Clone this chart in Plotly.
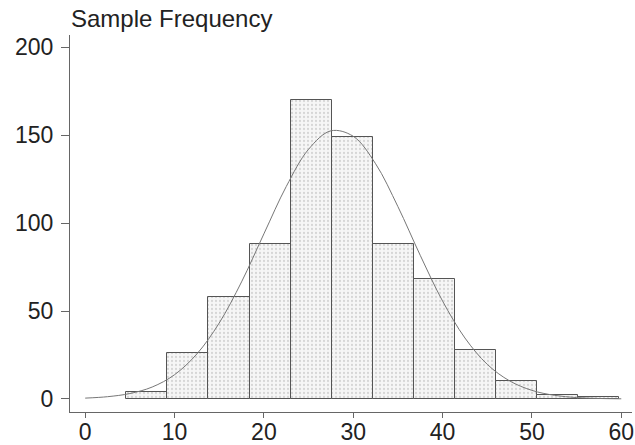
import plotly.graph_objects as go

# histogram bins (left edge) and counts
bin_width = 4.6
bin_starts = [4.6, 9.2, 13.8, 18.4, 23.0, 27.6, 32.2, 36.8, 41.4, 46.0, 50.6, 55.2]
counts = [4, 26, 58, 88, 170, 149, 88, 68, 28, 10, 2, 1]

# fitted normal curve
curve_x = [0, 2.5, 5, 7.5, 10, 12.5, 15, 17.5, 20, 22.5, 25, 27.5, 30,
           32.5, 35, 37.5, 40, 42.5, 45, 47.5, 50, 52.5, 55, 57.5, 60]
curve_y = [0.5, 1.3, 3.1, 6.8, 13.8, 25.6, 43.2, 66.6, 93.9, 120.8, 142, 152.5, 149.4,
           133.8, 109.4, 81.7, 55.7, 34.7, 19.7, 10.3, 4.9, 2.1, 0.8, 0.3, 0.1]

x_ticks = [0, 10, 20, 30, 40, 50, 60]
y_ticks = [0, 50, 100, 150, 200]

bin_centers = [s + bin_width / 2 for s in bin_starts]

fig = go.Figure()
fig.add_trace(go.Bar(
    x=bin_centers,
    y=counts,
    width=bin_width,
    marker=dict(
        color="#f4f4f4",
        line=dict(color="#555555", width=1),
        pattern=dict(shape=".", fgcolor="#b5b5b5", bgcolor="#f6f6f6", size=4, solidity=0.25),
    ),
    showlegend=False,
))
fig.add_trace(go.Scatter(
    x=curve_x,
    y=curve_y,
    mode="lines",
    line=dict(color="#777777", width=1, shape="spline"),
    showlegend=False,
))

axis_style = dict(
    showline=True, linecolor="#666666", linewidth=1,
    ticks="outside", tickcolor="#666666",
    showgrid=False, zeroline=False, automargin=False,
    tickfont=dict(family="Liberation Sans, Arial", size=23, color="#222222"),
)

fig.update_layout(
    width=635, height=445,
    margin=dict(l=70, r=3, t=35, b=33),
    plot_bgcolor="white", paper_bgcolor="white",
    bargap=0,
    xaxis=dict(range=[-1.7, 61.2], tickvals=x_ticks, ticklen=5,
               ticklabelstandoff=-6, **axis_style),
    yaxis=dict(range=[-7.4, 207], tickvals=y_ticks, ticklen=8,
               ticklabelstandoff=3, **axis_style),
    annotations=[dict(
        text="Sample Frequency", xref="paper", yref="paper", x=0, y=1,
        xanchor="left", yanchor="bottom", showarrow=False, xshift=-1, yshift=1,
        font=dict(family="Liberation Sans, Arial", size=24, color="#222222"),
    )],
)

# drop the default page margin so the figure sits at the window corner
fig.write_html("out.html", config={"displayModeBar": False},
               post_script="document.body.style.margin='0';")
